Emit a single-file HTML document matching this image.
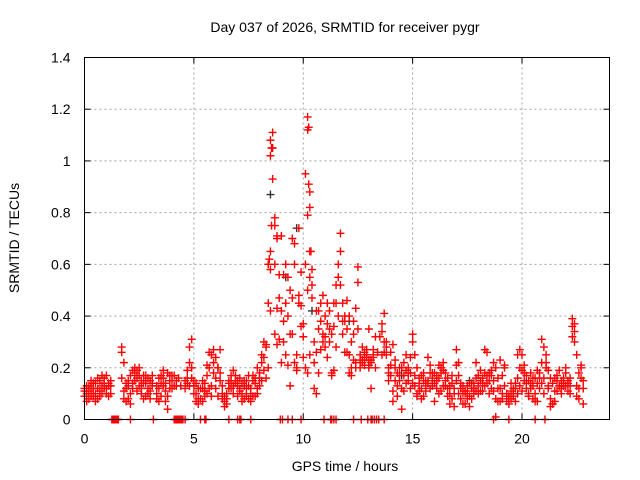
<!DOCTYPE html>
<html><head><meta charset="utf-8"><style>
body{margin:0;background:#fff}
svg{display:block;font-family:"Liberation Sans",sans-serif}
</style></head><body>
<svg id="chart" width="640" height="480">
<text x="345" y="32" text-anchor="middle" font-size="14">Day 037 of 2026, SRMTID for receiver pygr</text>
<text x="345" y="471" text-anchor="middle" font-size="14">GPS time / hours</text>
<text transform="translate(19,238) rotate(-90)" text-anchor="middle" font-size="14">SRMTID / TECUs</text>
<g id="grid"></g><g id="ticks"></g><g id="marks"></g>
<rect x="84.5" y="57.5" width="525" height="362" fill="none" stroke="#000" stroke-width="1"/>
</svg>
<script>
const xTicks=[0,5,10,15,20];
const yTicks=[0,0.2,0.4,0.6,0.8,1,1.2,1.4];
const yTickLabels=["0","0.2","0.4","0.6","0.8","1","1.2","1.4"];
const startHour=0, stepHour=0.1;
const srmtidA=[.11,.10,.13,.12,.14,.10,.12,.15,.13,.16, .12,.14,.10,null,null,null,null,.28,.22,.14, .13,.17,.19,.18,.16,.20,.15,.14,.17,.12, .15,.13,null,.10,.16,.17,.13,.11,.18,.15, .17,.13,.15,.16,.13,null,.15,.19,.28,.31, .13,.10,.08,.12,.15,.11,.17,.20,.25,.22, .24,.20,.15,.13,.07,.10,.14,.17,.19,.15, .13,.16,.10,.15,.12,.13,.10,.17,.14,.12, .18,.22,.30,.28,.20,.65,1.11,.75,.70,.56, .71,.56,.45,.40,.50,.70,.68,.25,.45,.36, .37,.60,.79,.55,.52,.30,.42,.42,.38,.33, .40,.24,.35,.18,.45,.52,.60,.72,.45,.38, .46,.25,.17,.38,.22,.53,.23,.28,.26,.24, .35,.23,.24,.20,.26,.32,.34,.41,.30,.20, .26,.29,.20,.13,.17,.20,.22,.19,.18,.24, .33,.25,.20,.16,.12,.18,.15,.14,.21,.18, .14,.17,.21,.20,.22,.18,.16,.13,.14,.10, .27,.22,.12,.13,.11,.08,.14,.14,.10,.22, .17,.19,.14,.27,.26,.18,.19,.22,.20,.12, .23,.17,.21,.07,.09,.14,.10,.12,.25,.20, .25,.21,.17,.15,.18,.13,.16,.14,.18,.14, .28,.25,.19,.16,.14,.16,.11,.19,.10,.16, .18,.15,.13,.39,.34,.25,.18,.21,.15];
const srmtidB=[.09,.13,.08,.15,.09,.14,.08,.11,.17,.12, .17,.09,.13,null,null,null,null,.16,.08,.12, .08,.10,.12,.15,.19,.13,.10,.17,.09,.16, .08,.17,null,.08,.12,.09,.16,.07,.04,.17, .15,.17,null,null,null,null,.12,.16,.22,.16, .10,.14,.06,.08,.07,.14,.10,.26,.13,.18, .16,.09,.27,.10,.05,.08,.12,.15,.10,.14, .09,.11,.14,.08,.09,.17,.07,.15,.09,.20, .13,.25,.19,.16,.45,.58,1.05,.60,.43,.47, .42,.30,.60,.55,.33,.47,.60,.20,.74,.57, .32,.95,.50,.65,.58,.22,.26,.35,.45,.48, .32,.45,.30,.17,.36,.45,.55,.65,.33,.26, .35,.40,.20,.33,.43,.59,.25,.22,.24,.27, .23,.12,.27,.32,null,null,.25,.26,.25,.18, .17,.07,.23,.18,.15,.12,.17,.25,.15,.12, .30,.17,.10,.11,.17,.09,.13,.24,.12,.16, .18,.12,.16,.18,.13,.15,.12,.06,.17,.05, .21,.10,.08,.06,.10,.13,.05,.12,.12,.16, .13,.11,.16,.13,.17,.15,.12,.15,.08,.16, .12,.08,.20,.10,.06,.08,.12,.07,.16,.27, .11,.15,.12,.10,.14,.08,.07,.19,.12,.31, .16,.20,.13,.08,.06,.07,.15,.13,.12,.13, .13,.11,.16,.36,.30,.09,.12,.16,.06];
const srmtidC=[.12,.07,.11,.09,.12,.07,.16,.09,.10,.14, .10,.13,.15,null,null,null,null,.26,.11,.07, .15,.06,.14,.20,.11,.17,.12,.08,.14,.10, .11,.14,null,.13,.07,.14,.19,.14,.09,.12, .12,null,.13,null,null,null,null,.14,.13,.20, .15,.07,.12,null,.12,.09,.21,.12,.09,.27, .12,.20,.18,.08,.09,.06,.15,.12,.13,.17, .15,.12,.07,.13,.15,.08,.12,.09,.16,.10, .16,.15,.24,.29,.60,.42,.93,.33,.29,.31, .22,.38,.25,.21,.13,.33,.22,.19,.48,.44, .24,.20,.18,.25,.47,.12,.10,.18,.27,.30, .28,.37,.42,.33,.19,.28,.40,.52,.38,.40, .26,.18,.30,.23,.20,.35,.20,.23,.21,.25, .20,.22,.25,null,null,null,.37,.30,.28,.15, .21,.11,.15,.09,.20,.04,.11,.14,.20,.18, .14,.13,.09,.14,.08,.15,.11,.15,.18,.13, .07,.15,.10,.11,.19,.13,.09,.10,.08,.12, .15,.17,.14,.10,.06,.11,.09,.08,.14,.11, .10,.15,.11,.18,.14,.10,.17,.11,.01,.07, .07,.10,.13,.09,.08,.11,.09,.14,.10,.13, .19,.18,.14,.09,.12,.16,.10,.07,.16,.22, .10,.22,.12,.05,.06,.11,.17,.13,.15,.14, .20,.14,.10,.32,.37,.13,.08,.20,.12];
const spikeHours=[8.5,8.55,8.5,8.55,10.2,10.25,10.2,10.3,10.25,10.3,8.7,8.8,8.45,10.35];
const spikeValues=[1.08,1.05,1.02,0.75,1.17,1.13,1.12,0.88,0.91,0.82,0.78,0.71,0.62,0.65];
const zeroHours=[1.25,1.3,1.35,1.4,1.45,1.5,1.55,2.1,3.15,4.1,4.15,4.2,4.25,4.3,4.35,4.4,4.45,4.5,4.6,5.3,5.5,5.55,6.6,7.0,7.1,7.15,7.6,8.95,9.05,9.3,9.5,9.9,10.95,11.25,11.3,11.4,11.5,12.3,12.65,12.95,13.1,13.15,13.25,13.35,13.45,13.7,18.7,19.4,20.6,21.05];
const blackHours=[8.5,9.7,9.2,10.4,12.1,13.0,14.5,17.6,21.9];
const blackValues=[0.87,0.74,0.55,0.42,0.38,0.21,0.17,0.15,0.13];

const X0=84.5,X1=609.5,Y0=419.5,Y1=57.5,XMAX=24,YMAX=1.4;
const xs=h=>X0+(X1-X0)*h/XMAX;
const ys=v=>Y0-(Y0-Y1)*v/YMAX;
const NS="http://www.w3.org/2000/svg";
const grid=document.getElementById('grid'),ticks=document.getElementById('ticks'),marks=document.getElementById('marks');
function mk(tag,attrs,parent){const e=document.createElementNS(NS,tag);for(const k in attrs)e.setAttribute(k,attrs[k]);parent.appendChild(e);return e;}
xTicks.forEach((t,i)=>{
  const x=xs(t);
  if(t>0){const g=mk('line',{x1:x,x2:x,y1:Y1,y2:Y0,stroke:'#a0a0a0','stroke-dasharray':'2,3'},grid);
  
  }
  mk('line',{x1:x,x2:x,y1:Y0,y2:Y0-6,stroke:'#000'},ticks);
  mk('line',{x1:x,x2:x,y1:Y1,y2:Y1+6,stroke:'#000'},ticks);
  const l=mk('text',{x:x,y:Y0+24,'text-anchor':'middle','font-size':'14'},ticks);
  l.textContent=String(t);
  
  
});
yTicks.forEach((t,i)=>{
  const y=ys(t);
  if(t>0&&t<YMAX){const g=mk('line',{x1:X0,x2:X1,y1:y,y2:y,stroke:'#a0a0a0','stroke-dasharray':'2,3'},grid);
  
  }
  mk('line',{x1:X0,x2:X0+6,y1:y,y2:y,stroke:'#000'},ticks);
  mk('line',{x1:X1,x2:X1-6,y1:y,y2:y,stroke:'#000'},ticks);
  const l=mk('text',{x:X0-14,y:y+5,'text-anchor':'end','font-size':'14'},ticks);
  l.textContent=yTickLabels[i];
  
  
});
function plus(h,v,color,name){
  if(v===null)return;
  const x=xs(h),y=ys(v);
  const p=mk('path',{d:`M${x-4},${y}H${x+4}M${x},${y-4}V${y+4}`,stroke:color,'stroke-width':'1.4',fill:'none'},marks);
  
  
}
blackValues.forEach((v,i)=>plus(blackHours[i],v,'#333','point-black'));
[srmtidA,srmtidB,srmtidC].forEach(arr=>arr.forEach((v,i)=>plus(startHour+i*stepHour,v,'#ff0000','point-srmtid')));
spikeValues.forEach((v,i)=>plus(spikeHours[i],v,'#ff0000','point-srmtid'));
zeroHours.forEach(h=>plus(h,0,'#ff0000','point-zero'));
</script>
</body></html>
